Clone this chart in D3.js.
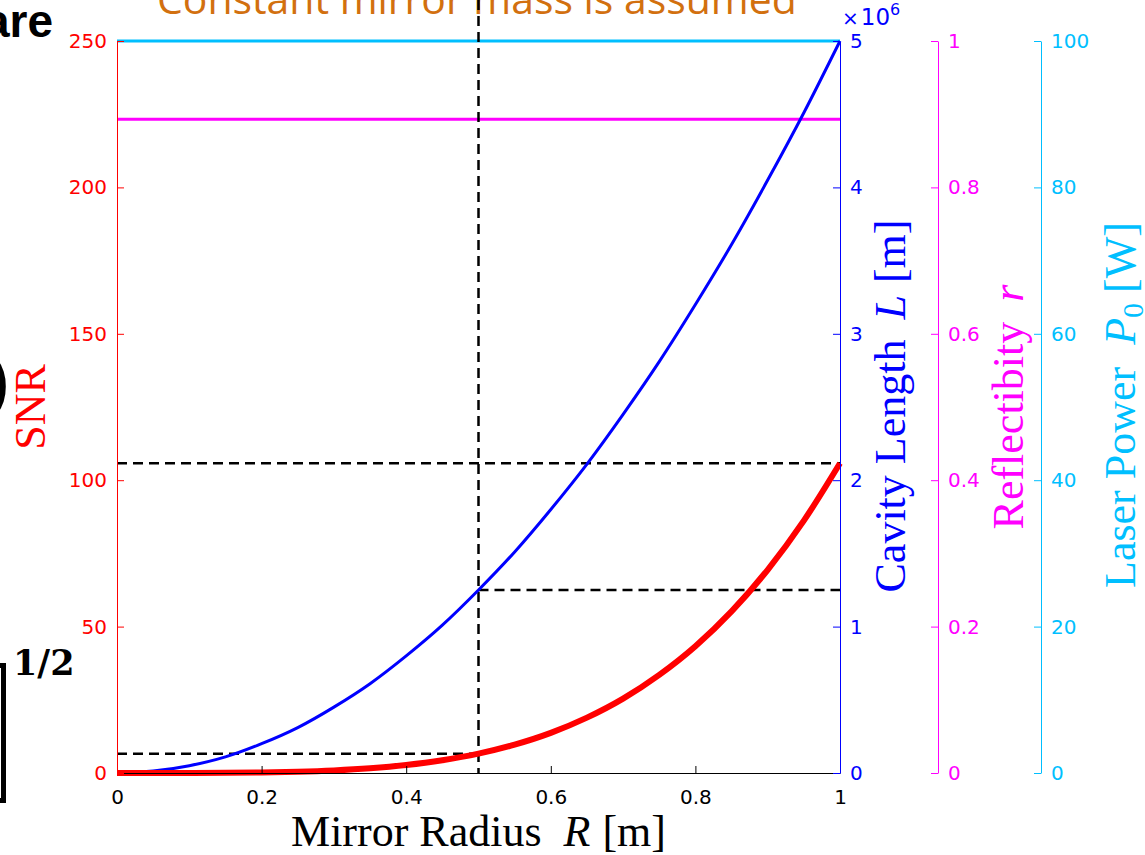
<!DOCTYPE html>
<html>
<head>
<meta charset="utf-8">
<script src="https://cdn.jsdelivr.net/npm/d3@7"></script>
<style>
  html, body { margin: 0; padding: 0; background: #fff; overflow: hidden; }
  svg { display: block; }
</style>
</head>
<body>
<svg id="chart" width="1145" height="855"></svg>
<script>
// Mirror radius R [m]
const radius = [0, 0.05, 0.1, 0.15, 0.2, 0.25, 0.3, 0.35, 0.4, 0.45, 0.5,
                0.55, 0.6, 0.65, 0.7, 0.75, 0.8, 0.85, 0.9, 0.95, 1.0];
// Signal-to-noise ratio at each radius
const snr = [0, 0, 0.01, 0.05, 0.17, 0.41, 0.86, 1.59, 2.71, 4.34, 6.6,
             9.68, 13.7, 18.9, 25.4, 33.5, 43.3, 55.2, 69.4, 86.2, 105.8];
// Cavity length L in units of 10^6 m
const cavityLength = [0, 0.013, 0.05, 0.11, 0.2, 0.31, 0.45, 0.61, 0.8, 1.01, 1.25,
                      1.51, 1.8, 2.11, 2.45, 2.81, 3.2, 3.61, 4.05, 4.51, 5.0];
// Constant parameters
const reflectivity = 0.893;
const laserPower = 100;      // W
const markRadius = 0.5;      // highlighted design point

// Tick values
const radiusTicks = [0, 0.2, 0.4, 0.6, 0.8, 1];
const snrTicks = [0, 50, 100, 150, 200, 250];
const lengthTicks = [0, 1, 2, 3, 4, 5];
const reflTicks = [0, 0.2, 0.4, 0.6, 0.8, 1];
const powerTicks = [0, 20, 40, 60, 80, 100];

const C = {
  red: "#ff0000",
  blue: "#0000ff",
  magenta: "#ff00ff",
  cyan: "#00bfff",
  orange: "#d2700f"
};

const svg = d3.select("#chart");
const plotL = 117, plotR = 840, plotT = 41, plotB = 773;

const x = d3.scaleLinear().domain([0, 1]).range([plotL, plotR]);
const ySnr = d3.scaleLinear().domain([0, 250]).range([plotB, plotT]);
const yLen = d3.scaleLinear().domain([0, 5]).range([plotB, plotT]);
const yRef = d3.scaleLinear().domain([0, 1]).range([plotB, plotT]);
const yPow = d3.scaleLinear().domain([0, 100]).range([plotB, plotT]);

const fmt = d3.format("~g");
const tickFont = "DejaVu Sans, sans-serif";
const serif = "Liberation Serif, Times New Roman, serif";

function styleAxis(g, color) {
  g.attr("font-family", tickFont).attr("font-size", 20);
  g.select(".domain").attr("stroke", color).attr("stroke-width", 1);
  g.selectAll(".tick line").attr("stroke", color);
  g.selectAll(".tick text").attr("fill", color);
}

// ---- side text from the surrounding slide ----
svg.append("text")
  .attr("x", 53).attr("y", 37)
  .attr("text-anchor", "end")
  .attr("font-family", "Liberation Sans, Arial, sans-serif")
  .attr("font-weight", "bold")
  .attr("font-size", 46)
  .attr("fill", "#000")
  .text("are");

svg.append("text")
  .attr("x", 9).attr("y", 402)
  .attr("text-anchor", "end")
  .attr("font-family", "Liberation Sans, Arial, sans-serif")
  .attr("font-weight", "bold")
  .attr("font-size", 62)
  .attr("fill", "#000")
  .text(")");

svg.append("text")
  .attr("x", 13).attr("y", 675)
  .attr("font-family", "DejaVu Serif, serif")
  .attr("font-weight", "bold")
  .attr("font-size", 35)
  .attr("fill", "#000")
  .text("1/2");

// tall closing bracket
svg.append("path")
  .attr("d", "M-20,665.5H3.5V800.5H-20")
  .attr("fill", "none")
  .attr("stroke", "#000")
  .attr("stroke-width", 5);

// ---- title ----
const title = svg.append("text")
  .attr("x", 157).attr("y", 14)
  .attr("font-family", "Open Sans, Lato, sans-serif")
  .attr("font-size", 46)
  .attr("fill", C.orange)
  .text("Constant mirror mass is assumed");
{
  const w = title.node().getComputedTextLength();
  title.attr("font-size", 46 * 640 / w);
}

// ---- constant-parameter lines ----
svg.append("line")
  .attr("x1", x(0)).attr("x2", x(1))
  .attr("y1", yPow(laserPower)).attr("y2", yPow(laserPower))
  .attr("stroke", C.cyan).attr("stroke-width", 3);

svg.append("line")
  .attr("x1", x(0)).attr("x2", x(1))
  .attr("y1", yRef(reflectivity)).attr("y2", yRef(reflectivity))
  .attr("stroke", C.magenta).attr("stroke-width", 3);

// ---- dashed guides at the design point ----
const iMark = radius.indexOf(markRadius);
function dashed(x1, y1, x2, y2) {
  svg.append("line")
    .attr("x1", x1).attr("y1", y1).attr("x2", x2).attr("y2", y2)
    .attr("stroke", "#000")
    .attr("stroke-width", 2.5)
    .attr("stroke-dasharray", "10,6");
}
dashed(x(markRadius), 0, x(markRadius), plotB);
dashed(x(0), ySnr(snr[snr.length - 1]), x(1), ySnr(snr[snr.length - 1]));
dashed(x(0), ySnr(snr[iMark]), x(markRadius), ySnr(snr[iMark]));
dashed(x(markRadius), yLen(cavityLength[iMark]), x(1), yLen(cavityLength[iMark]));

// ---- curves ----
const lenLine = d3.line()
  .x((d, i) => x(radius[i]))
  .y(d => yLen(d))
  .curve(d3.curveMonotoneX);
svg.append("path")
  .attr("d", lenLine(cavityLength))
  .attr("fill", "none")
  .attr("stroke", C.blue)
  .attr("stroke-width", 3);

const snrLine = d3.line()
  .x((d, i) => x(radius[i]))
  .y(d => ySnr(d))
  .curve(d3.curveMonotoneX);
svg.append("path")
  .attr("d", snrLine(snr))
  .attr("fill", "none")
  .attr("stroke", C.red)
  .attr("stroke-width", 6);

// ---- axes ----
const gx = svg.append("g")
  .attr("transform", `translate(0,${plotB})`)
  .call(d3.axisBottom(x).tickValues(radiusTicks).tickFormat(fmt)
        .tickSize(-7).tickSizeOuter(0).tickPadding(17));
styleAxis(gx, "#000");

const gSnr = svg.append("g")
  .attr("transform", `translate(${plotL},0)`)
  .call(d3.axisLeft(ySnr).tickValues(snrTicks).tickFormat(fmt)
        .tickSize(-7).tickSizeOuter(0).tickPadding(10));
styleAxis(gSnr, C.red);

const gLen = svg.append("g")
  .attr("transform", `translate(${plotR},0)`)
  .call(d3.axisRight(yLen).tickValues(lengthTicks).tickFormat(fmt)
        .tickSize(-7).tickSizeOuter(0).tickPadding(10));
styleAxis(gLen, C.blue);

const gRef = svg.append("g")
  .attr("transform", "translate(938,0)")
  .call(d3.axisRight(yRef).tickValues(reflTicks).tickFormat(fmt)
        .tickSize(-7).tickSizeOuter(0).tickPadding(10));
styleAxis(gRef, C.magenta);

const gPow = svg.append("g")
  .attr("transform", "translate(1041,0)")
  .call(d3.axisRight(yPow).tickValues(powerTicks).tickFormat(fmt)
        .tickSize(-7).tickSizeOuter(0).tickPadding(10));
styleAxis(gPow, C.cyan);

// exponent marker for the cavity-length axis
const expo = svg.append("text")
  .attr("x", 842).attr("y", 25)
  .attr("font-family", tickFont)
  .attr("fill", C.blue);
expo.append("tspan").attr("font-size", 20).text("×");
expo.append("tspan").attr("font-size", 23).attr("dx", 2).text("10");
expo.append("tspan").attr("font-size", 16).attr("dy", -10).text("6");

// ---- axis titles ----
const xl = svg.append("text")
  .attr("x", (plotL + plotR) / 2).attr("y", 846)
  .attr("text-anchor", "middle")
  .attr("font-family", serif).attr("font-size", 44)
  .attr("fill", "#000");
xl.append("tspan").text("Mirror Radius");
xl.append("tspan").attr("dx", 22).attr("font-style", "italic").text("R");
xl.append("tspan").attr("dx", 12).text("[m]");

function vLabel(cx, cy, color) {
  return svg.append("text")
    .attr("transform", `translate(${cx},${cy}) rotate(-90)`)
    .attr("text-anchor", "middle")
    .attr("font-family", serif).attr("font-size", 44)
    .attr("fill", color);
}

vLabel(45, 407, C.red).text("SNR");

const ll = vLabel(905, 406, C.blue);
ll.append("tspan").text("Cavity Length");
ll.append("tspan").attr("dx", 20).attr("font-style", "italic").text("L");
ll.append("tspan").attr("dx", 12).text("[m]");

const rl = vLabel(1023, 407, C.magenta);
rl.append("tspan").text("Reflectibity");
rl.append("tspan").attr("dx", 20).attr("font-style", "italic").text("r");

const pl = vLabel(1135, 405, C.cyan);
pl.append("tspan").text("Laser Power");
pl.append("tspan").attr("dx", 22).attr("font-style", "italic").text("P");
pl.append("tspan").attr("font-size", 30).attr("dy", 8).text("0");
pl.append("tspan").attr("dx", 10).attr("dy", -8).text("[W]");
</script>
</body>
</html>
